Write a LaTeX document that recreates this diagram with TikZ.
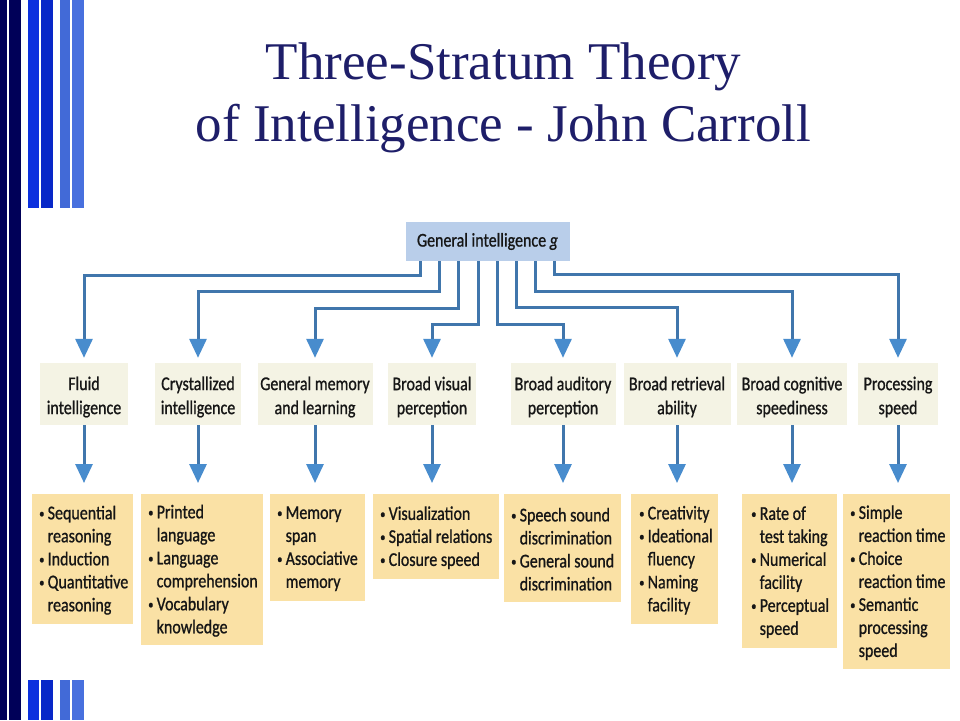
\documentclass[tikz,border=0pt]{standalone}
\usepackage{fontspec}
\setmainfont{Liberation Serif}
\newfontfamily\boxfont{Carlito}[FakeStretch=0.82,FakeBold=0.9]
\usetikzlibrary{arrows.meta}
\definecolor{navy}{RGB}{0,0,88}
\definecolor{blueA}{RGB}{12,48,222}
\definecolor{blueB}{RGB}{8,40,200}
\definecolor{lightA}{RGB}{66,106,215}
\definecolor{lightB}{RGB}{72,112,222}
\definecolor{titlenavy}{RGB}{30,30,105}
\definecolor{connline}{RGB}{64,118,172}
\definecolor{connhead}{RGB}{72,140,205}
\definecolor{gfill}{RGB}{185,206,234}
\definecolor{midfill}{RGB}{244,243,228}
\definecolor{botfill}{RGB}{250,225,165}
\definecolor{textdark}{RGB}{22,22,22}
\newcommand{\bu}{\makebox[8.5pt][l]{\raisebox{1.5pt}{\fontsize{13}{13}\selectfont\textbullet}}}
\newcommand{\ind}{\hspace*{8.5pt}}
\tikzset{
  titletext/.style={anchor=base, font=\fontsize{53}{60}\selectfont, text=titlenavy, inner sep=0},
  gbox/.style={fill=gfill, minimum width=164pt, minimum height=39pt, inner sep=0, text=textdark,
    font=\boxfont\fontsize{19.5}{23}\selectfont},
  midbox/.style={fill=midfill, minimum height=62pt, inner sep=0},
  midtext/.style={inner sep=0, align=center, text=textdark,
    font=\boxfont\fontsize{19.5}{24}\selectfont},
  botbox/.style={fill=botfill, anchor=north west, inner sep=0pt},
  bottext/.style={anchor=west, inner sep=0pt, align=left, text=textdark,
    font=\boxfont\fontsize{19.5}{23}\selectfont},
  conn/.style={draw=connline, line width=3pt,
    -{Triangle[width=17pt,length=19pt,color=connhead]}, shorten >=5pt},
  conn2/.style={conn, shorten >=11pt},
}
\begin{document}
\begin{tikzpicture}[x=1pt,y=-1pt]
\useasboundingbox (0,0) rectangle (960,720);
\fill[white] (0,0) rectangle (960,720);
% stripes
\fill[navy] (0,0) rectangle (7,720);
\fill[navy] (9,0) rectangle (21,720);
\fill[blueA] (28,0) rectangle (39,208);
\fill[blueB] (41,0) rectangle (53,208);
\fill[lightA] (60,0) rectangle (70,208);
\fill[lightB] (72,0) rectangle (84,208);
\fill[blueA] (28,680) rectangle (39,720);
\fill[blueB] (41,680) rectangle (53,720);
\fill[lightA] (60,680) rectangle (70,720);
\fill[lightB] (72,680) rectangle (84,720);
% title
\node[titletext] (title1) at (503.5,79) {Three-Stratum Theory};
\node[titletext] (title2) at (503.5,141) {of Intelligence - John Carroll};
% top node
\node[gbox] (g) at (487.5,241.5) {General intelligence \textit{g}};
% stratum II
\node[midbox, minimum width=88pt]  (m1) at (84,394)  {};
\node[midbox, minimum width=86pt]  (m2) at (198,394) {};
\node[midbox, minimum width=115pt] (m3) at (315,394) {};
\node[midbox, minimum width=88pt]  (m4) at (432,394) {};
\node[midbox, minimum width=105pt] (m5) at (563,394) {};
\node[midbox, minimum width=107pt] (m6) at (677,394) {};
\node[midbox, minimum width=110pt] (m7) at (792,394) {};
\node[midbox, minimum width=80pt]  (m8) at (898,394) {};
\node[midtext] (m1t) at ([yshift=-3pt]m1.center) {Fluid\\intelligence};
\node[midtext] (m2t) at ([yshift=-3pt]m2.center) {Crystallized\\intelligence};
\node[midtext] (m3t) at ([yshift=-3pt]m3.center) {General memory\\and learning};
\node[midtext] (m4t) at ([yshift=-3pt]m4.center) {Broad visual\\perception};
\node[midtext] (m5t) at ([yshift=-3pt]m5.center) {Broad auditory\\perception};
\node[midtext] (m6t) at ([yshift=-3pt]m6.center) {Broad retrieval\\ability};
\node[midtext] (m7t) at ([yshift=-3pt]m7.center) {Broad cognitive\\speediness};
\node[midtext] (m8t) at ([yshift=-3pt]m8.center) {Processing\\speed};
% stratum I
\node[botbox, minimum width=101pt, minimum height=130pt] (b1) at (32,494) {};
\node[botbox, minimum width=122pt, minimum height=151pt] (b2) at (141,494) {};
\node[botbox, minimum width=95pt,  minimum height=107pt] (b3) at (270,494) {};
\node[botbox, minimum width=126pt, minimum height=85pt]  (b4) at (373,494) {};
\node[botbox, minimum width=117pt, minimum height=108pt] (b5) at (504,494) {};
\node[botbox, minimum width=87pt,  minimum height=130pt] (b6) at (631,494) {};
\node[botbox, minimum width=95pt,  minimum height=154pt] (b7) at (742,494) {};
\node[botbox, minimum width=107pt, minimum height=175pt] (b8) at (843,494) {};
\node[bottext] (b1t) at ([xshift=7pt,yshift=-1pt]b1.west)
  {\bu Sequential\\\ind reasoning\\\bu Induction\\\bu Quantitative\\\ind reasoning};
\node[bottext] (b2t) at ([xshift=7pt,yshift=-1pt]b2.west)
  {\bu Printed\\\ind language\\\bu Language\\\ind comprehension\\\bu Vocabulary\\\ind knowledge};
\node[bottext] (b3t) at ([xshift=7pt,yshift=-1pt]b3.west)
  {\bu Memory\\\ind span\\\bu Associative\\\ind memory};
\node[bottext] (b4t) at ([xshift=7pt,yshift=-1pt]b4.west)
  {\bu Visualization\\\bu Spatial relations\\\bu Closure speed};
\node[bottext] (b5t) at ([xshift=7pt,yshift=-1pt]b5.west)
  {\bu Speech sound\\\ind discrimination\\\bu General sound\\\ind discrimination};
\node[bottext] (b6t) at ([xshift=8pt,yshift=-1pt]b6.west)
  {\bu Creativity\\\bu Ideational\\\ind fluency\\\bu Naming\\\ind facility};
\node[bottext] (b7t) at ([xshift=9pt,yshift=-1pt]b7.west)
  {\bu Rate of\\\ind test taking\\\bu Numerical\\\ind facility\\\bu Perceptual\\\ind speed};
\node[bottext] (b8t) at ([xshift=7pt,yshift=-1pt]b8.west)
  {\bu Simple\\\ind reaction time\\\bu Choice\\\ind reaction time\\\bu Semantic\\\ind processing\\\ind speed};
% connectors from g
\draw[conn] ([xshift=-67.3pt]g.south) -- ++(0,14) -| (m1.north);
\draw[conn] ([xshift=-48pt]g.south) -- ++(0,30) -| (m2.north);
\draw[conn] ([xshift=-28.7pt]g.south) -- ++(0,47) -| (m3.north);
\draw[conn] ([xshift=-9.5pt]g.south) -- ++(0,63) -| (m4.north);
\draw[conn] ([xshift=9.5pt]g.south) -- ++(0,63) -| (m5.north);
\draw[conn] ([xshift=28.7pt]g.south) -- ++(0,46) -| (m6.north);
\draw[conn] ([xshift=48pt]g.south) -- ++(0,30) -| (m7.north);
\draw[conn] ([xshift=67.3pt]g.south) -- ++(0,13) -| (m8.north);
% connectors to stratum I
\foreach \i in {1,...,8}
  \draw[conn2] (m\i.south) -- (m\i.south |- b\i.north);
\end{tikzpicture}
\end{document}
